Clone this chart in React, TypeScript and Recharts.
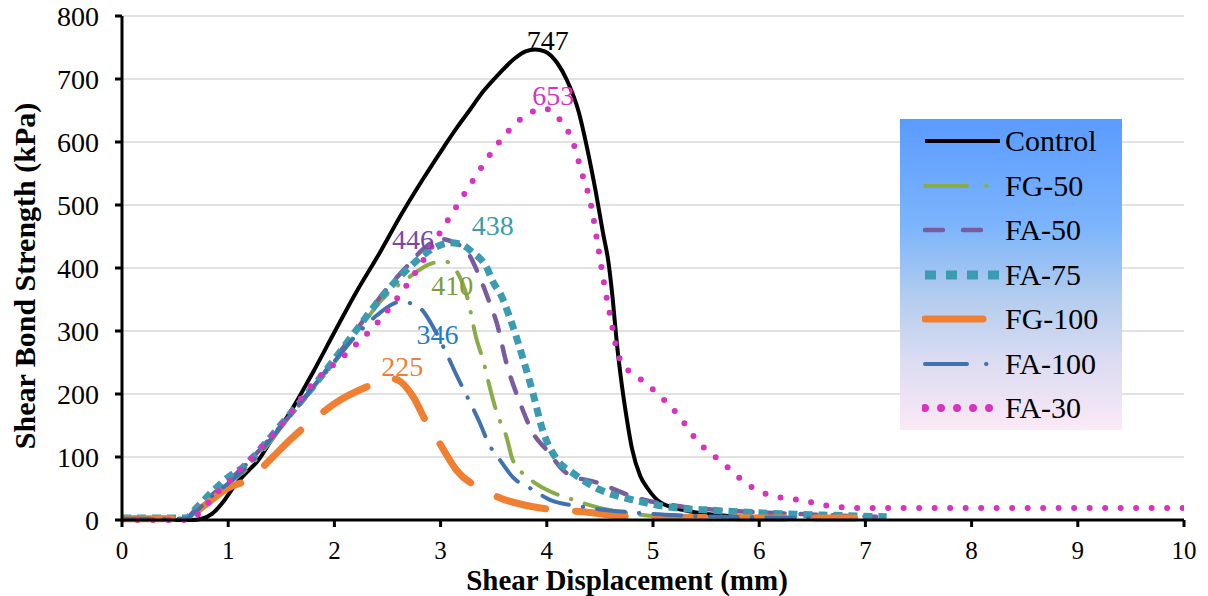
import React from 'react';
import {
  LineChart,
  Line,
  XAxis,
  YAxis,
  CartesianGrid,
  Legend,
  ReferenceDot,
  Label,
} from 'recharts';

const FONT = '"Liberation Serif", "Times New Roman", serif';

const xTicks = [0, 1, 2, 3, 4, 5, 6, 7, 8, 9, 10];
const yTicks = [0, 100, 200, 300, 400, 500, 600, 700, 800];

// [displacement mm, strength kPa]
const control: [number, number][] = [
  [0, 0], [0.65, 0], [0.75, 2], [0.85, 10], [0.95, 28], [1.05, 52], [1.2, 80], [1.27, 92],
  [1.4, 125], [1.58, 170], [1.8, 235], [2.0, 298], [2.2, 360], [2.43, 425], [2.62, 482],
  [2.83, 540], [3.03, 592], [3.15, 622], [3.28, 652], [3.4, 680], [3.56, 710], [3.7, 733],
  [3.8, 744], [3.89, 747], [3.98, 744], [4.1, 725], [4.19, 698], [4.3, 648], [4.38, 590],
  [4.46, 522], [4.53, 455], [4.58, 410], [4.62, 352], [4.66, 280], [4.71, 210], [4.75, 164],
  [4.8, 115], [4.88, 70], [4.95, 50], [5.07, 28], [5.28, 16], [5.6, 8], [6.0, 4], [6.35, 2],
];

const fg50: [number, number][] = [
  [0, 2], [0.6, 2], [0.7, 15], [0.85, 38], [1.0, 58], [1.2, 85], [1.4, 125], [1.6, 170],
  [1.8, 210], [2.0, 250], [2.2, 295], [2.45, 350], [2.7, 385], [2.93, 408], [3.05, 410],
  [3.15, 395], [3.25, 354], [3.34, 286], [3.4, 254], [3.47, 206], [3.53, 170], [3.62, 132],
  [3.68, 95], [3.82, 68], [4.0, 48], [4.25, 32], [4.5, 19], [4.8, 10], [5.1, 5],
];

const fa50: [number, number][] = [
  [0, 3], [0.6, 3], [0.7, 18], [0.85, 40], [1.0, 62], [1.15, 85], [1.3, 112], [1.5, 150],
  [1.8, 210], [2.0, 255], [2.2, 300], [2.46, 360], [2.68, 402], [2.85, 432], [3.0, 446],
  [3.13, 440], [3.25, 426], [3.37, 385], [3.45, 350], [3.53, 312], [3.62, 249], [3.75, 185],
  [3.87, 138], [4.0, 111], [4.19, 74], [4.5, 58], [4.81, 37], [5.28, 21], [5.8, 14],
  [6.3, 10], [7.1, 5],
];

const fa75: [number, number][] = [
  [0, 3], [0.6, 3], [0.7, 19], [0.85, 45], [1.0, 68], [1.14, 84], [1.3, 112], [1.5, 152],
  [1.8, 212], [2.0, 255], [2.2, 300], [2.45, 355], [2.7, 400], [2.9, 428], [3.09, 440],
  [3.2, 437], [3.3, 425], [3.43, 402], [3.5, 376], [3.56, 360], [3.65, 322], [3.78, 254],
  [3.87, 201], [3.96, 143], [4.1, 95], [4.25, 74], [4.5, 48], [4.81, 32], [5.13, 21],
  [5.6, 15], [6.2, 10], [6.8, 7], [7.2, 5],
];

const fg100: [number, number][] = [
  [0, 2], [0.6, 2], [0.76, 21], [1.0, 51], [1.17, 63], [1.3, 80], [1.42, 100], [1.6, 130],
  [1.8, 159], [2.05, 190], [2.3, 211], [2.52, 225], [2.6, 222], [2.74, 196], [2.87, 154],
  [2.99, 122], [3.15, 79], [3.4, 48], [3.56, 35], [3.87, 21], [4.34, 13], [4.81, 5],
  [5.5, 4], [6.2, 3], [6.9, 3],
];

const fa100: [number, number][] = [
  [0, 2], [0.6, 2], [0.7, 14], [0.85, 38], [1.0, 58], [1.2, 88], [1.4, 128], [1.6, 170],
  [1.8, 212], [2.0, 252], [2.2, 292], [2.4, 325], [2.62, 346], [2.72, 344], [2.81, 336],
  [2.96, 297], [3.07, 259], [3.15, 230], [3.25, 196], [3.37, 154], [3.45, 122], [3.56, 95],
  [3.68, 68], [3.87, 48], [4.03, 32], [4.34, 21], [4.8, 12], [5.3, 7], [6.0, 4], [6.5, 3],
];

const fa30: [number, number][] = [
  [0, 0], [0.6, 0], [0.73, 11], [0.85, 35], [1.04, 67], [1.2, 95], [1.33, 119], [1.52, 155],
  [1.8, 217], [2.12, 265], [2.49, 330], [2.84, 413], [2.99, 455], [3.14, 495], [3.37, 556],
  [3.53, 595], [3.62, 614], [3.84, 646], [3.98, 653], [4.11, 638], [4.25, 598], [4.33, 551],
  [4.41, 505], [4.48, 437], [4.55, 365], [4.6, 322], [4.66, 270], [4.72, 245], [4.81, 233],
  [5.04, 201], [5.25, 164], [5.41, 127], [5.66, 90], [5.94, 51], [6.22, 35], [6.38, 32],
  [6.67, 22], [6.98, 19], [8, 19], [9, 19], [10, 19],
];

// peak value labels: [x, y, text, color]
const peakLabels: [number, number, string, string][] = [
  [4.01, 762, '747', '#000000'],
  [4.06, 675, '653', '#d633c0'],
  [2.74, 446, '446', '#7a45a8'],
  [3.49, 468, '438', '#3b9bb0'],
  [3.11, 373, '410', '#7f9a3f'],
  [2.97, 295, '346', '#1f7ccc'],
  [2.64, 244, '225', '#f07f32'],
];

type Series = {
  name: string;
  data: [number, number][];
  color: string;
  width: number;
  dash?: string;
  cap: 'round' | 'butt';
  legendDash?: string;
  legendLen: number;
  legendWidth: number;
};

const series: Series[] = [
  { name: 'Control', data: control, color: '#000000', width: 4, cap: 'butt', legendLen: 75, legendWidth: 4 },
  { name: 'FG-50', data: fg50, color: '#8aac48', width: 4, dash: '28 14 0.5 14', cap: 'round', legendDash: '42 19 0.5 60', legendLen: 62, legendWidth: 4 },
  { name: 'FA-50', data: fa50, color: '#7a5c9e', width: 4.5, dash: '16 16', cap: 'round', legendDash: '18 20', legendLen: 58, legendWidth: 4.5 },
  { name: 'FA-75', data: fa75, color: '#3b9bb0', width: 7, dash: '9 6', cap: 'butt', legendDash: '11 10', legendLen: 74, legendWidth: 9 },
  { name: 'FG-100', data: fg100, color: '#f07f32', width: 7, dash: '50 30', cap: 'round', legendLen: 58, legendWidth: 7 },
  { name: 'FA-100', data: fa100, color: '#3f72af', width: 4, dash: '28 14 0.5 14', cap: 'round', legendDash: '42 19 0.5 60', legendLen: 62, legendWidth: 4 },
  { name: 'FA-30', data: fa30, color: '#d633c0', width: 6, dash: '0 15.5', cap: 'round', legendDash: '0 16', legendLen: 66, legendWidth: 8 },
];

const toPoints = (d: [number, number][]) => d.map(([x, y]) => ({ x, y }));

function LegendBox() {
  return (
    <div
      style={{
        width: 222,
        height: 311,
        background:
          'linear-gradient(to bottom, #5a9bff 0%, #7db5fb 35%, #b4cdee 58%, #dcdcf2 78%, #fbe9f6 100%)',
        fontFamily: FONT,
      }}
    >
      {series.map((s) => (
        <div key={s.name} style={{ height: 44.5, position: 'relative' }}>
          <svg width={85} height={20} style={{ position: 'absolute', left: 22, top: 12 }}>
            <line
              x1={3}
              y1={10}
              x2={3 + s.legendLen}
              y2={10}
              stroke={s.color}
              strokeWidth={s.legendWidth}
              strokeDasharray={s.legendDash}
              strokeLinecap={s.cap}
            />
          </svg>
          <span
            style={{
              position: 'absolute',
              left: 105,
              top: 3,
              fontSize: 30,
              lineHeight: '38px',
              color: '#000',
            }}
          >
            {s.name}
          </span>
        </div>
      ))}
    </div>
  );
}

export default function App() {
  return (
    <div style={{ position: 'absolute', left: 0, top: 0, background: '#fff' }}>
      <LineChart width={1208} height={596} margin={{ top: 16, right: 24, left: 0, bottom: 0 }}>
        <CartesianGrid vertical={false} stroke="#d9d9d9" strokeWidth={1.5} />
        <XAxis
          type="number"
          dataKey="x"
          domain={[0, 10]}
          ticks={xTicks}
          height={76}
          stroke="#000"
          strokeWidth={3}
          tickSize={7}
          tickMargin={14}
          tick={{ fill: '#000', fontSize: 25, fontFamily: FONT }}
          allowDataOverflow
        >
          <Label
            content={() => (
              <text
                x={627}
                y={590}
                textAnchor="middle"
                fontFamily={FONT}
                fontWeight="bold"
                fontSize={29}
                fill="#000"
              >
                Shear Displacement (mm)
              </text>
            )}
          />
        </XAxis>
        <YAxis
          type="number"
          domain={[0, 800]}
          ticks={yTicks}
          width={122}
          stroke="#000"
          strokeWidth={3}
          tickSize={7}
          tickMargin={16}
          tick={{ fill: '#000', fontSize: 28, fontFamily: FONT }}
        >
          <Label
            content={() => (
              <text
                x={0}
                y={0}
                transform="translate(35, 276) rotate(-90)"
                textAnchor="middle"
                fontFamily={FONT}
                fontWeight="bold"
                fontSize={30}
                fill="#000"
              >
                Shear Bond Strength (kPa)
              </text>
            )}
          />
        </YAxis>
        {series.map((s) => (
          <Line
            key={s.name}
            data={toPoints(s.data)}
            dataKey="y"
            name={s.name}
            type="monotone"
            stroke={s.color}
            strokeWidth={s.width}
            strokeDasharray={s.dash}
            strokeLinecap={s.cap}
            dot={false}
            activeDot={false}
            isAnimationActive={false}
          />
        ))}
        {peakLabels.map(([x, y, text, color]) => (
          <ReferenceDot
            key={text}
            x={x}
            y={y}
            r={0}
            shape={(p: any) => (
              <text
                x={p.cx}
                y={p.cy}
                dy="0.35em"
                textAnchor="middle"
                fontFamily={FONT}
                fontSize={28}
                fill={color}
              >
                {text}
              </text>
            )}
          />
        ))}
        <Legend
          layout="vertical"
          align="center"
          verticalAlign="middle"
          content={() => <LegendBox />}
          wrapperStyle={{ left: 900, top: 119, width: 222, height: 311 }}
        />
      </LineChart>
    </div>
  );
}
